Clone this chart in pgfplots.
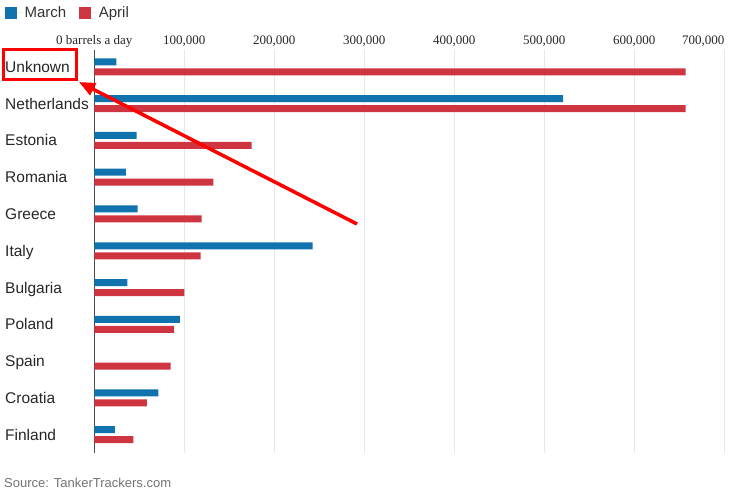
\documentclass[border=0pt]{standalone}
\usepackage{fontspec}
\setmainfont{Liberation Sans}
\newfontfamily\tickfont{Liberation Serif}
\usepackage{pgfplots}
\pgfplotsset{compat=1.18}
\usetikzlibrary{arrows.meta}
\definecolor{mblue}{RGB}{16,115,174}
\definecolor{ared}{RGB}{207,52,65}
\definecolor{gridc}{RGB}{232,232,236}
\begin{document}
\begin{tikzpicture}[x=1pt,y=1pt]
\path[use as bounding box] (0,0) rectangle (740,-494);
\begin{axis}[
  at={(94.3pt,-50pt)}, anchor=north west,
  scale only axis, width=634.5pt, height=403pt,
  xbar, bar width=7pt,
  xmin=0, xmax=705000,
  ymin=-0.46, ymax=10.5, y dir=reverse,
  ytick={0,...,10},
  yticklabels={Unknown,Netherlands,Estonia,Romania,Greece,Italy,Bulgaria,Poland,Spain,Croatia,Finland},
  yticklabel style={anchor=west, inner sep=0pt, xshift=-89.3pt, yshift=-1.5pt, text height=11pt, text depth=3pt, font=\fontsize{15.5}{18}\selectfont, text=black!85},
  xtick={100000,200000,300000,400000,500000,600000,700000},
  xticklabels={{100,000},{200,000},{300,000},{400,000},{500,000},{600,000},{\makebox[0pt][r]{700,000}}},
  extra x ticks={0},
  extra x tick labels={0 barrels a day},
  extra x tick style={grid style={draw=black!70, line width=1.1pt}},
  xticklabel pos=top,
  xticklabel style={font=\tickfont\fontsize{13}{15}\selectfont, text=black!85, inner sep=0pt, yshift=3pt, text height=9pt, text depth=2.5pt},
  /pgf/number format/assume math mode=true,
  major tick length=0pt,
  xmajorgrids, grid style={draw=gridc, line width=0.8pt},
  axis line style={draw=none},
  scaled x ticks=false,
  legend style={at={(axis description cs:-0.1408,1.092)}, anchor=west, draw=none, fill=none, inner sep=0pt,
    font=\fontsize{15}{18}\selectfont, text=black!80, legend columns=2,
    /tikz/every even column/.append style={column sep=11pt}},
  legend image code/.code={\fill[#1] (0pt,-5.75pt) rectangle (11.5pt,5.75pt); \path (0pt,0pt) -- (17.5pt,0pt);},
]
\addplot[draw=none, fill=mblue, bar shift=5pt] coordinates {
(24400,0) (521000,1) (47100,2) (35200,3) (48200,4) (242600,5) (36700,6) (95200,7) (0,8) (71100,9) (23000,10)};
\addplot[draw=none, fill=ared, bar shift=-5pt] coordinates {
(657000,0) (657000,1) (174900,2) (132200,3) (119300,4) (118200,5) (100000,6) (88600,7) (84900,8) (58500,9) (43300,10)};
\legend{March,April}
\end{axis}
\node[anchor=west, inner sep=0pt, text=black!55, font=\fontsize{13}{15}\selectfont] at (4,-483) {Source: TankerTrackers.com};
\draw[red, line width=3pt] (3,-50) rectangle (76,-80);
\draw[red, line width=3.5pt, -{Triangle[length=16pt,width=13pt]}] (357,-224) -- (79,-82);
\end{tikzpicture}
\end{document}
